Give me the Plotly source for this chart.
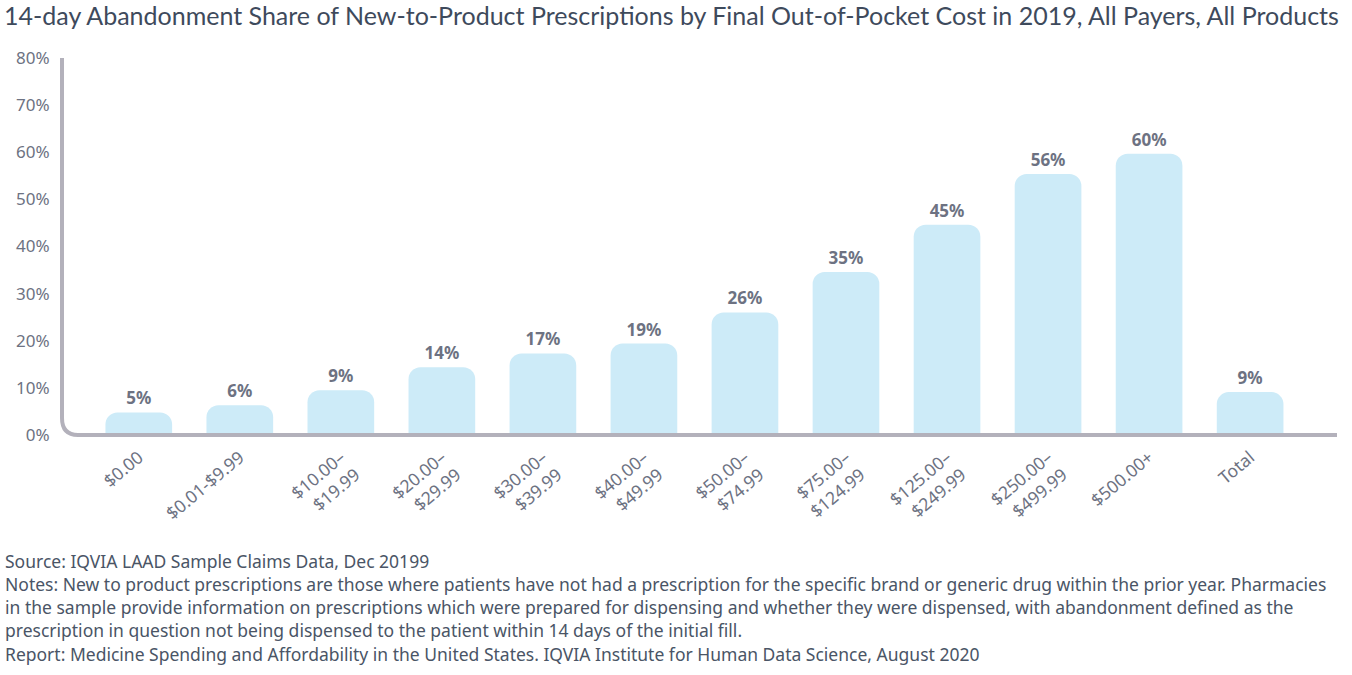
import plotly.graph_objects as go

categories = [
    "$0.00", "$0.01-$9.99", "$10.00–<br>$19.99", "$20.00–<br>$29.99",
    "$30.00–<br>$39.99", "$40.00–<br>$49.99", "$50.00–<br>$74.99",
    "$75.00–<br>$124.99", "$125.00–<br>$249.99", "$250.00–<br>$499.99",
    "$500.00+", "Total",
]
share = [4.8, 6.3, 9.5, 14.4, 17.3, 19.4, 26.0, 34.6, 44.6, 55.4, 59.7, 9.1]
share_labels = ["5%", "6%", "9%", "14%", "17%", "19%", "26%", "35%", "45%", "56%", "60%", "9%"]

y_ticks = [0, 10, 20, 30, 40, 50, 60, 70, 80]
y_tick_labels = ["0%", "10%", "20%", "30%", "40%", "50%", "60%", "70%", "80%"]

title = ("14-day Abandonment Share of New-to-Product Prescriptions by Final "
         "Out-of-Pocket Cost in 2019, All Payers, All Products")
source = "Source: IQVIA LAAD Sample Claims Data, Dec 20199"
notes = (
    "Notes: New to product prescriptions are those where patients have not had a prescription "
    "for the specific brand or generic drug within the prior year. Pharmacies<br>"
    "in the sample provide information on prescriptions which were prepared for dispensing "
    "and whether they were dispensed, with abandonment defined as the<br>"
    "prescription in question not being dispensed to the patient within 14 days of the initial fill."
)
report = ("Report: Medicine Spending and Affordability in the United States. "
          "IQVIA Institute for Human Data Science, August 2020")
# footer blocks and the pixel row (from top) of their centres
footer_blocks = [source, notes, report]
footer_rows = [561, 607, 654]

grey = "#6d7282"
axis_grey = "#b3b1bb"

W, H = 1352, 675
M_L, M_R, M_T, M_B = 62, 15, 58, 240
plot_w = W - M_L - M_R
plot_h = H - M_T - M_B

fig = go.Figure()

fig.add_trace(
    go.Bar(
        x=list(range(len(categories))),
        y=share,
        text=share_labels,
        textposition="outside",
        textfont=dict(family="Noto Sans", size=17, color=grey, weight="bold"),
        cliponaxis=False,
        marker=dict(color="#cdebf8", cornerradius=12, line=dict(width=0)),
        width=0.66,
        hoverinfo="skip",
    )
)

# y axis line with rounded corner into the x axis
fig.add_shape(
    type="path",
    xref="paper", yref="paper",
    path="M 0,1 L 0,0.045 Q 0,0 0.0125,0 L 1,0",
    line=dict(color=axis_grey, width=4),
)

for row, block in zip(footer_rows, footer_blocks):
    fig.add_annotation(
        xref="paper", yref="paper",
        x=(4 - M_L) / plot_w, y=(H - M_B - row) / plot_h,
        text=block, showarrow=False, xanchor="left", yanchor="middle", align="left",
        borderpad=0,
        font=dict(family="Noto Sans", size=17.5, color="#4a5566"),
    )

fig.update_layout(
    width=W, height=H,
    title=dict(
        text=title, x=4 / W, xanchor="left", y=1 - 16 / H, yanchor="middle",
        font=dict(family="Lato", size=25, color="#3e4a5c"),
    ),
    margin=dict(l=M_L, r=M_R, t=M_T, b=M_B),
    paper_bgcolor="white", plot_bgcolor="white",
    showlegend=False,
    xaxis=dict(
        tickmode="array",
        tickvals=list(range(len(categories))),
        ticktext=categories,
        tickangle=-40,
        range=[-0.76, 11.86],
        showgrid=False, zeroline=False, showline=False,
        tickfont=dict(family="Noto Sans", size=17.5, color=grey),
        ticks="", ticklabelstandoff=8, automargin=False,
    ),
    yaxis=dict(
        range=[0, 80],
        tickmode="array",
        tickvals=y_ticks,
        ticktext=y_tick_labels,
        showgrid=False, zeroline=False, showline=False,
        tickfont=dict(family="Noto Sans", size=17, color=grey),
        ticks="outside", ticklen=8, tickcolor="rgba(0,0,0,0)",
        automargin=False,
    ),
)

fig.write_html(
    "out.html",
    config={"displayModeBar": False},
    post_script="document.body.style.margin = '0';",
)
